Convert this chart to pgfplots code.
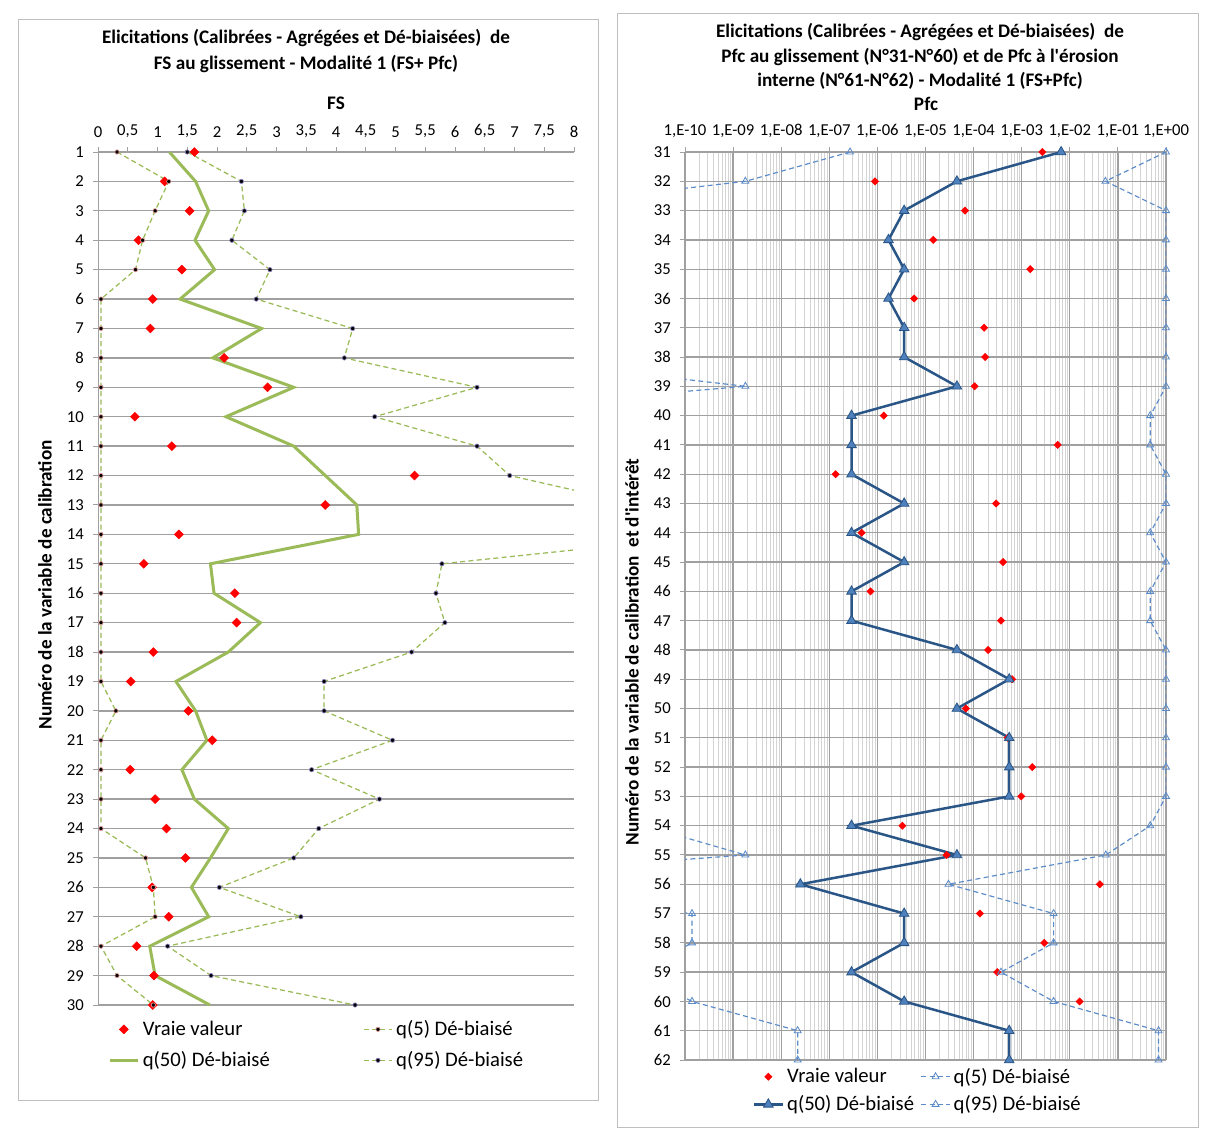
\documentclass[border=0pt]{standalone}
\usepackage{fontspec}
\setmainfont{Carlito}
\usepackage{pgfplots}
\pgfplotsset{compat=1.18}
\usepackage{pgfplotstable}

\definecolor{fsgreen}{HTML}{9BBB59}
\definecolor{qpink}{HTML}{E59B9B}
\definecolor{qpurple}{HTML}{8E82C0}
\definecolor{qblue}{HTML}{5B8BC9}
\definecolor{mblue}{HTML}{4F81BD}
\definecolor{dblue}{HTML}{2A5587}
\definecolor{gridgray}{HTML}{A0A0A0}
\definecolor{minorgray}{HTML}{D4D4D4}
\definecolor{framegray}{HTML}{BFBFBF}

% FS panel: row, true value, q5, q50, q95
\pgfplotstableread{
row tv q5 q50 q95
1 1.62 0.32 1.20 1.50
2 1.12 1.19 1.64 2.41
3 1.54 0.96 1.86 2.46
4 0.68 0.75 1.63 2.25
5 1.41 0.63 1.96 2.89
6 0.92 0.05 1.38 2.66
7 0.88 0.05 2.75 4.28
8 2.12 0.05 1.93 4.14
9 2.85 0.05 3.29 6.37
10 0.62 0.05 2.15 4.65
11 1.24 0.05 3.29 6.37
12 5.32 0.05 3.82 6.92
13 3.82 0.05 4.35 9.10
14 1.36 0.05 4.38 10.5
15 0.77 0.05 1.89 5.78
16 2.30 0.05 1.95 5.68
17 2.33 0.05 2.73 5.83
18 0.93 0.05 2.19 5.27
19 0.55 0.05 1.31 3.80
20 1.52 0.30 1.64 3.80
21 1.92 0.05 1.83 4.95
22 0.54 0.05 1.41 3.59
23 0.96 0.05 1.62 4.73
24 1.15 0.05 2.19 3.71
25 1.47 0.80 1.89 3.29
26 0.91 0.93 1.57 2.04
27 1.19 0.96 1.86 3.41
28 0.65 0.05 0.87 1.17
29 0.94 0.32 0.96 1.90
30 0.92 0.93 1.88 4.32
}\fsdata

% Pfc panel: row, true value, q5, q50, q95
\pgfplotstableread{
row tv q5 q50 q95
31 2.7e-3 2.7e-7 6.6e-3 1
32 8.9e-7 1.8e-9 4.5e-5 0.055
33 6.6e-5 1e-14 3.6e-6 1
34 1.45e-5 1e-14 1.7e-6 1
35 1.5e-3 1e-14 3.6e-6 1
36 5.8e-6 1e-14 1.7e-6 1
37 1.66e-4 1e-14 3.6e-6 1
38 1.74e-4 1e-14 3.6e-6 1
39 1.05e-4 1.8e-9 4.5e-5 1
40 1.35e-6 1e-16 2.9e-7 0.47
41 5.6e-3 1e-16 2.9e-7 0.47
42 1.35e-7 1e-16 2.9e-7 1
43 2.95e-4 1e-16 3.6e-6 1
44 4.7e-7 1e-16 2.9e-7 0.47
45 4.1e-4 1e-16 3.6e-6 1
46 7.2e-7 1e-16 2.9e-7 0.47
47 3.7e-4 1e-16 2.9e-7 0.47
48 2.0e-4 1e-16 4.5e-5 1
49 6.3e-4 1e-16 5.5e-4 1
50 6.9e-5 1e-16 4.5e-5 1
51 5.1e-4 1e-16 5.5e-4 1
52 1.66e-3 1e-16 5.5e-4 1
53 9.8e-4 1e-16 5.5e-4 1
54 3.3e-6 1.4e-11 2.9e-7 0.47
55 2.75e-5 1.8e-9 4.5e-5 0.056
56 4.2e-2 1e-17 2.5e-8 3.0e-5
57 1.35e-4 1.4e-10 3.6e-6 4.6e-3
58 2.95e-3 1.4e-10 3.6e-6 4.6e-3
59 3.1e-4 1e-11 2.9e-7 3.7e-4
60 1.6e-2 1.4e-10 3.6e-6 4.6e-3
61 nan 2.2e-8 5.5e-4 0.7
62 nan 2.2e-8 5.5e-4 0.7
}\pfcdata

\pgfplotsset{
  panel/.style={
    scale only axis, anchor=north west,
    y dir=reverse, enlargelimits=false,
    axis line style={draw=none},
    tick align=outside,
    xtick pos=upper, ytick pos=left,
    xticklabel pos=upper, yticklabel pos=left,
    major tick length=3pt, minor tick length=0pt,
    tick style={gridgray, line width=0.6pt},
    ymajorgrids,
    major grid style={gridgray, line width=0.8pt},
    ticklabel style={font=\fontsize{10}{12}\selectfont},
    yticklabel style={xshift=-2pt},
    xticklabel style={yshift=2pt},
    /pgf/number format/assume math mode=true,
    /pgf/number format/use comma,
    legend columns=2,
    legend cell align=left,
    legend style={draw=none, fill=none, anchor=north west,
      font=\fontsize{12.4}{15}\selectfont},
  },
}

\begin{document}
\begin{tikzpicture}
\useasboundingbox (0,0) rectangle (724.8pt,-678.6pt);
\fill[white] (0,0) rectangle (724.8pt,-678.6pt);

\begin{scope}[x=0.6pt, y=-0.6pt]
  \draw[framegray, line width=0.6pt] (18,20) rectangle (598,1100);
  \draw[framegray, line width=0.6pt] (617,14) rectangle (1198,1127);
  \node[font=\bfseries\fontsize{11.5}{15.6}\selectfont, align=center] at (306,51)
    {Elicitations (Calibrées - Agrégées et Dé-biaisées)\ \ de\\FS au glissement - Modalité 1 (FS+ Pfc)};
  \node[font=\bfseries\fontsize{11.5}{14.7}\selectfont, align=center] at (920,56.5)
    {Elicitations (Calibrées - Agrégées et Dé-biaisées)\ \ de\\Pfc au glissement (N°31-N°60) et de Pfc à l\textquotesingle érosion\\interne (N°61-N°62) - Modalité 1 (FS+Pfc)};
  \node[font=\bfseries\fontsize{11.5}{14}\selectfont] at (336,103) {FS};
  \node[font=\bfseries\fontsize{11.5}{14}\selectfont] at (926,104) {Pfc};
  \node[font=\bfseries\fontsize{11.5}{14}\selectfont, rotate=90] at (45,585)
    {Numéro de la variable de calibration};
  \node[font=\bfseries\fontsize{11.5}{14}\selectfont, rotate=90] at (632,652)
    {Numéro de la variable de calibration\ \ et d\textquotesingle intérêt};
\end{scope}

% left panel
\begin{axis}[panel,
  at={(58.8pt,-91.2pt)}, width=285.6pt, height=511.8pt,
  xmin=0, xmax=8, ymin=1, ymax=30,
  xtick={0,0.5,...,8}, ytick={1,...,30},
  legend style={at={(0.01,-0.01)}, row sep=4pt,
    /tikz/every even column/.append style={column sep=54pt}},
]
\draw[gridgray, line width=0.8pt] (rel axis cs:0,0) -- (rel axis cs:0,1);
\addplot[only marks, mark=square*, mark size=1.85pt,
  mark options={rotate=45, fill=red, draw=red}] table[x=tv, y=row] {\fsdata};
\addlegendentry{Vraie valeur}
\addplot[fsgreen, line width=0.75pt, dash pattern=on 3pt off 2pt,
  mark=*, mark size=1.3pt,
  mark options={solid, fill=black, draw=qpink, line width=0.4pt}] table[x=q5, y=row] {\fsdata};
\addlegendentry{q(5) Dé-biaisé}
\addplot[fsgreen, line width=1.8pt] table[x=q50, y=row] {\fsdata};
\addlegendentry{q(50) Dé-biaisé}
\addplot[fsgreen, line width=0.75pt, dash pattern=on 3pt off 2pt,
  mark=*, mark size=1.3pt,
  mark options={solid, fill=black, draw=qpurple, line width=0.4pt}] table[x=q95, y=row] {\fsdata};
\addlegendentry{q(95) Dé-biaisé}
\end{axis}

% right panel
\begin{axis}[panel,
  at={(411pt,-91.2pt)}, width=288.6pt, height=544.8pt,
  xmode=log, xmin=1e-10, xmax=1, ymin=31, ymax=62,
  xtick={1e-10,1e-9,1e-8,1e-7,1e-6,1e-5,1e-4,1e-3,1e-2,1e-1,1},
  xticklabels={{1,E-10},{1,E-09},{1,E-08},{1,E-07},{1,E-06},{1,E-05},{1,E-04},{1,E-03},{1,E-02},{1,E-01},{1,E+00}},
  minor xtick={2e-10,3e-10,4e-10,5e-10,6e-10,7e-10,8e-10,9e-10,
    2e-9,3e-9,4e-9,5e-9,6e-9,7e-9,8e-9,9e-9,
    2e-8,3e-8,4e-8,5e-8,6e-8,7e-8,8e-8,9e-8,
    2e-7,3e-7,4e-7,5e-7,6e-7,7e-7,8e-7,9e-7,
    2e-6,3e-6,4e-6,5e-6,6e-6,7e-6,8e-6,9e-6,
    2e-5,3e-5,4e-5,5e-5,6e-5,7e-5,8e-5,9e-5,
    2e-4,3e-4,4e-4,5e-4,6e-4,7e-4,8e-4,9e-4,
    2e-3,3e-3,4e-3,5e-3,6e-3,7e-3,8e-3,9e-3,
    2e-2,3e-2,4e-2,5e-2,6e-2,7e-2,8e-2,9e-2,
    0.2,0.3,0.4,0.5,0.6,0.7,0.8,0.9},
  ytick={31,...,62},
  xmajorgrids, xminorgrids,
  minor grid style={minorgray, line width=0.6pt},
  legend style={at={(0.13,-0.001)}, row sep=2pt,
    /tikz/every even column/.append style={column sep=2pt}},
]
\draw[gridgray, line width=0.8pt] (rel axis cs:0,0) -- (rel axis cs:0,1);
\addplot[only marks, mark=square*, mark size=1.5pt,
  mark options={rotate=45, fill=red, draw=red}] table[x=tv, y=row] {\pfcdata};
\addlegendentry{Vraie valeur}
\addplot[qblue, line width=0.7pt, dash pattern=on 3pt off 2pt,
  mark=triangle, mark size=2.4pt,
  mark options={solid, fill=white, draw=qblue, line width=0.5pt}] table[x=q5, y=row] {\pfcdata};
\addlegendentry{q(5) Dé-biaisé}
\addplot[dblue, line width=1.5pt,
  mark=triangle*, mark size=3.3pt,
  mark options={fill=mblue, draw=dblue, line width=0.5pt}] table[x=q50, y=row] {\pfcdata};
\addlegendentry{q(50) Dé-biaisé}
\addplot[qblue, line width=0.7pt, dash pattern=on 3pt off 2pt,
  mark=triangle, mark size=2.4pt,
  mark options={solid, fill=white, draw=qblue, line width=0.5pt}] table[x=q95, y=row] {\pfcdata};
\addlegendentry{q(95) Dé-biaisé}
\end{axis}
\end{tikzpicture}
\end{document}
